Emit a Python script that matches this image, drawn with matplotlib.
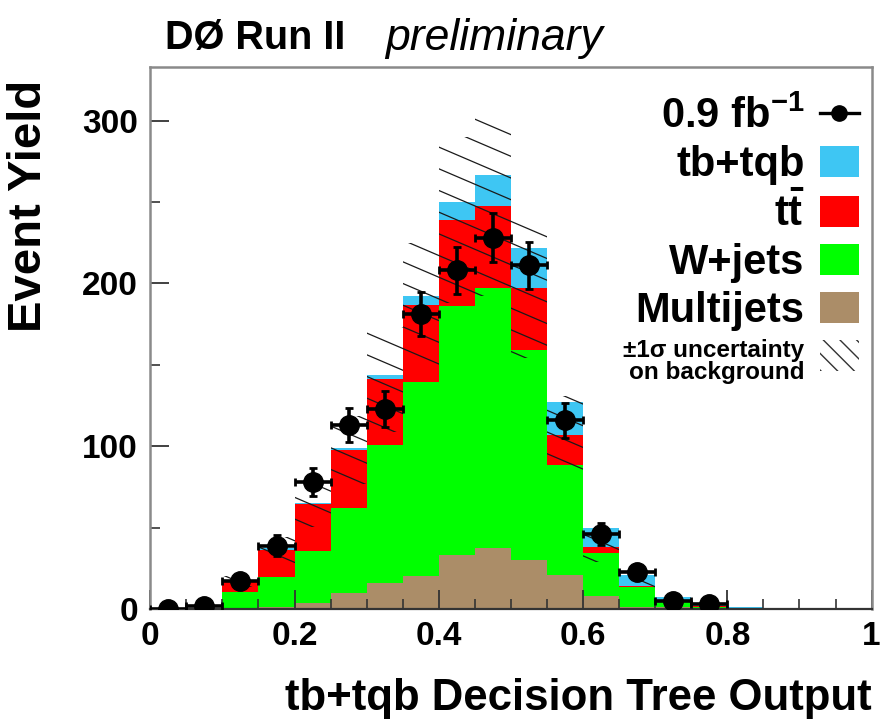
import numpy as np
import matplotlib
matplotlib.use("Agg")
import matplotlib.pyplot as plt
from matplotlib.patches import Patch
from matplotlib.lines import Line2D

plt.rcParams['font.family'] = ['Liberation Sans', 'DejaVu Sans']
plt.rcParams['mathtext.fontset'] = 'custom'
plt.rcParams['mathtext.rm'] = 'Liberation Sans:bold'
plt.rcParams['mathtext.bf'] = 'Liberation Sans:bold'
plt.rcParams['mathtext.it'] = 'Liberation Sans:bold'

# ---------------- data ----------------
bin_edges = [0.00, 0.05, 0.10, 0.15, 0.20, 0.25, 0.30, 0.35, 0.40, 0.45,
             0.50, 0.55, 0.60, 0.65, 0.70, 0.75, 0.80, 0.85, 0.90, 0.95, 1.00]
multijets = [0.0, 0.0, 0.3, 1.0, 3.7, 10.0, 16.0, 20.0, 33.0, 37.5,
             30.0, 21.0, 8.0, 1.5, 1.0, 0.3, 0.0, 0.0, 0.0, 0.0]
wjets     = [0.0, 0.5, 10.4, 18.7, 32.0, 52.0, 85.0, 119.5, 153.0, 159.5,
             129.0, 67.5, 26.5, 12.0, 3.0, 1.2, 0.5, 0.0, 0.0, 0.0]
ttbar     = [0.0, 0.1, 6.1, 16.8, 28.8, 35.7, 40.0, 47.5, 53.0, 50.5,
             38.0, 18.5, 3.5, 0.5, 0.5, 0.2, 0.1, 0.0, 0.0, 0.0]
signal    = [0.0, 0.1, 1.0, 0.9, 0.7, 1.1, 2.5, 5.0, 11.0, 19.0,
             24.5, 20.0, 12.0, 7.0, 3.0, 0.8, 0.6, 0.0, 0.0, 0.0]
bkg_unc   = [0.0, 0.2, 3.5, 8.0, 14.0, 21.0, 32.0, 38.0, 51.0, 55.0,
             43.0, 24.0, 9.0, 3.0, 1.0, 0.4, 0.1, 0.0, 0.0, 0.0]
data_x    = [0.025, 0.075, 0.125, 0.175, 0.225, 0.275, 0.325, 0.375,
             0.425, 0.475, 0.525, 0.575, 0.625, 0.675, 0.725, 0.775]
data_y    = [0, 2, 17, 39, 78, 113, 123, 181, 208, 228, 211, 116, 46, 23, 5, 3]
data_err  = [0.0, 1.4, 4.1, 6.2, 8.8, 10.6, 11.1, 13.5, 14.4, 15.1,
             14.5, 10.8, 6.8, 4.8, 2.2, 1.7]
data_xerr = 0.025

labels = ['0.9 fb$^{-1}$', 'tb+tqb', 't$\\bar{\\mathrm{t}}$', 'W+jets', 'Multijets',
          '\u00b11\u03c3 uncertainty\non background']
colors = {'multijets': '#ab8d68', 'wjets': '#00ff00', 'ttbar': '#ff0000', 'signal': '#3ec6f3'}

# ---------------- figure ----------------
fig = plt.figure(figsize=(8.84, 7.19), dpi=100)
ax = fig.add_axes([0.170, 0.153, 0.816, 0.754])

edges = np.array(bin_edges)
mj = np.array(multijets)
wj = np.array(wjets)
tt = np.array(ttbar)
sg = np.array(signal)
unc = np.array(bkg_unc)

lvl1 = mj
lvl2 = lvl1 + wj
lvl3 = lvl2 + tt
lvl4 = lvl3 + sg

ax.stairs(lvl1, edges, baseline=0, fill=True, color=colors['multijets'], lw=0)
ax.stairs(lvl2, edges, baseline=lvl1, fill=True, color=colors['wjets'], lw=0)
ax.stairs(lvl3, edges, baseline=lvl2, fill=True, color=colors['ttbar'], lw=0)
ax.stairs(lvl4, edges, baseline=lvl3, fill=True, color=colors['signal'], lw=0)

# uncertainty band on background, hatched with shallow lines clipped to the band
band = ax.stairs(lvl3 + unc, edges, baseline=np.clip(lvl3 - unc, 0, None),
                 fill=True, facecolor='none', edgecolor='none', lw=0)
for c in np.arange(-0.2, 1.8, 0.040):
    ln, = ax.plot([0, 1], [c, c - 0.57], transform=ax.transAxes,
                  color='#1a1a1a', lw=0.9, zorder=3)
    ln.set_clip_path(band)

# data
ax.errorbar(data_x, data_y, yerr=data_err, xerr=data_xerr, fmt='o', color='black',
            ms=14, elinewidth=2.6, capsize=3, capthick=2.0, zorder=5)

# axes styling
ax.set_xlim(0, 1)
ax.set_ylim(0, 333)
ax.set_xticks([0, 0.2, 0.4, 0.6, 0.8, 1.0])
ax.set_xticklabels(['0', '0.2', '0.4', '0.6', '0.8', '1'])
ax.set_xticks(np.arange(0, 1.0001, 0.05), minor=True)
ax.set_yticks([0, 100, 200, 300])
ax.set_yticks([50, 150, 250], minor=True)
ax.tick_params(axis='both', which='major', direction='in', length=14, width=1.3,
               colors='#333333', labelcolor='black', labelsize=24, pad=9)
ax.tick_params(axis='both', which='minor', direction='in', length=7, width=1.2,
               colors='#333333')
ax.tick_params(top=False, right=False, which='both')
for lab in ax.get_xticklabels() + ax.get_yticklabels():
    lab.set_fontweight('bold')
for s in ['top', 'right', 'left']:
    ax.spines[s].set_color('#8a8a8a')
    ax.spines[s].set_linewidth(1.8)
ax.spines['bottom'].set_color('#333333')
ax.spines['bottom'].set_linewidth(1.6)

ax.set_xlabel('tb+tqb Decision Tree Output', fontsize=31.5, fontweight='bold', loc='right')
ax.xaxis.set_label_coords(1.0, -0.128)
ax.set_ylabel('Event Yield', fontsize=34, fontweight='bold', loc='top')
ax.yaxis.set_label_coords(-0.137, 0.976)

fig.text(0.187, 0.947, 'D\u00d8 Run II', fontsize=28.5, fontweight='bold', ha='left', va='center')
fig.text(0.436, 0.947, 'preliminary', fontsize=32, style='italic', ha='left', va='center')

# legend
handles = [
    Line2D([0], [0], marker='o', color='black', ms=11, lw=2.4),
    Patch(facecolor=colors['signal'], edgecolor='none'),
    Patch(facecolor=colors['ttbar'], edgecolor='none'),
    Patch(facecolor=colors['wjets'], edgecolor='none'),
    Patch(facecolor=colors['multijets'], edgecolor='none'),
    Patch(facecolor='none', edgecolor='#333333', hatch='\\\\', lw=0),
]
leg = ax.legend(handles, labels, loc='upper right', bbox_to_anchor=(0.982, 0.945),
                markerfirst=False, frameon=False, prop={'size': 30, 'weight': 'bold'},
                handlelength=0.92, handleheight=0.77, handletextpad=0.38,
                labelspacing=0.19, borderaxespad=0.0, borderpad=0.0)
for t in leg.get_texts():
    t.set_ha('right')
leg.get_texts()[-1].set_fontsize(17.5)
leg.get_texts()[-1].set_linespacing(0.95)

fig.savefig('out.png', dpi=100)
